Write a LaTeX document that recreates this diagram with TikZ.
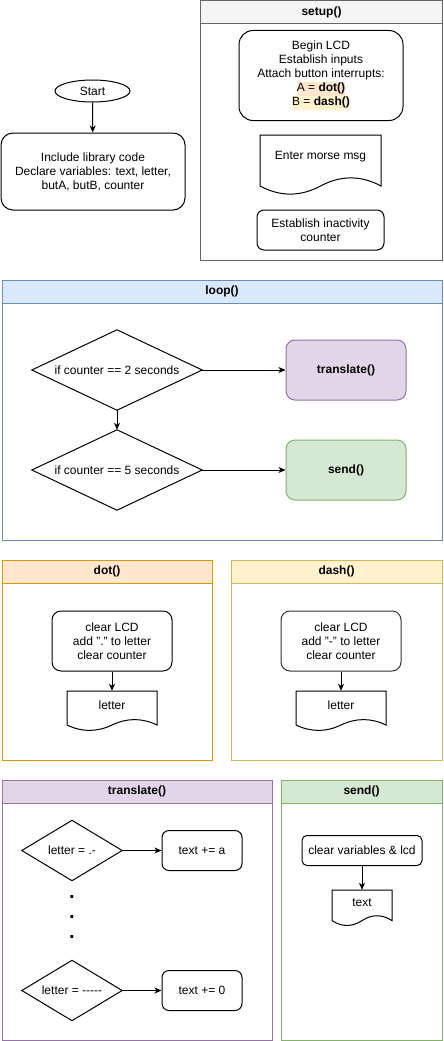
\documentclass[tikz,border=0pt]{standalone}
\usepackage{fontspec}
\setmainfont{Liberation Sans}
\usetikzlibrary{arrows.meta,shapes.geometric}
\setlength{\fboxsep}{0pt}
\definecolor{setupfill}{HTML}{F5F5F5}
\definecolor{setupline}{HTML}{666666}
\definecolor{loopfill}{HTML}{DAE8FC}
\definecolor{loopline}{HTML}{6C8EBF}
\definecolor{dotfill}{HTML}{FFE6CC}
\definecolor{dotline}{HTML}{D79B00}
\definecolor{dashfill}{HTML}{FFF2CC}
\definecolor{dashline}{HTML}{D6B656}
\definecolor{trfill}{HTML}{E1D5E7}
\definecolor{trline}{HTML}{9673A6}
\definecolor{sendfill}{HTML}{D5E8D4}
\definecolor{sendline}{HTML}{82B366}
\definecolor{dkline}{HTML}{333333}
\tikzset{
  base/.style={font=\fontsize{12}{14}\selectfont, align=center, inner sep=0pt, text=black},
  boldbase/.style={base, font=\fontsize{12}{14}\selectfont\bfseries},
  rbox/.style={base, draw=black, line width=1pt, rounded corners=#1},
  rbox/.default=9pt,
  docline/.style={draw=black, line width=1pt, fill=white},
  arr/.style={-{Stealth[length=7pt,width=6pt,inset=2pt]}, line width=1pt, draw=black},
  contline/.style={line width=1pt},
}
\newcommand\container[8]{%
  \draw[contline, draw=#7, fill=white] (#2,#3) rectangle (#4,#5);
  \draw[contline, draw=#7, fill=#6] (#2,#3) rectangle (#4,{#3+23});
  \node[boldbase] (#1) at ({(#2+#4)/2},{#3+11.5}) {#8};
}
\newcommand\docshape[7]{%
  \node[inner sep=0pt, minimum width=#4pt, minimum height=#5pt] (#1) at (#2,{#3+#5/2}) {};
  \draw[docline] ({#2-#4/2},#3) -- ({#2+#4/2},#3) -- ({#2+#4/2},{#3+0.85*#5})
    .. controls ({#2+#4*0.3333},{#3+0.67*#5}) and ({#2+#4*0.1667},{#3+0.67*#5}) .. (#2,{#3+0.85*#5})
    .. controls ({#2-#4*0.1667},{#3+1.03*#5}) and ({#2-#4*0.3333},{#3+1.03*#5}) .. ({#2-#4/2},{#3+0.85*#5}) -- cycle;
  \node[base] (#1-t) at (#2,#6) {#7};
}
\newcommand\diamondshape[6]{%
  \node[base, minimum width=#4pt, minimum height=#5pt] (#1) at (#2,#3) {};
  \draw[line width=1pt, fill=white] (#1.west) -- (#1.north) -- (#1.east) -- (#1.south) -- cycle;
  \node[base] (#1-t) at (#2,#3) {#6};
}
\begin{document}
\begin{tikzpicture}[x=1pt,y=-1pt]
\useasboundingbox (0,0) rectangle (444,1041);

% ---------- start ----------
\node[base, draw, ellipse, line width=1pt, minimum width=75pt, minimum height=22pt] (start) at (92.5,91) {Start};
\node[rbox=12pt, minimum width=184pt, minimum height=77pt] (incl) at (93,171.5) {Include library code\\Declare variables: text, letter,\\butA, butB, counter};
\draw[arr] (start) -- (incl);

% ---------- setup ----------
\container{setupT}{200.5}{0.5}{442.5}{260}{setupfill}{setupline}{setup()}
\node[rbox=14pt, minimum width=164pt, minimum height=90pt] (lcd) at (321,75.5) {Begin LCD\\Establish inputs\\Attach button interrupts:\\\colorbox{dotfill}{\strut A = \textbf{dot()}}\\\colorbox{dashfill}{\strut B = \textbf{dash()}}};
\docshape{morse}{320.5}{135}{121}{60}{157}{Enter morse msg}
\node[rbox=7pt, minimum width=127pt, minimum height=40pt] (inact) at (320.5,230) {Establish inactivity\\counter};

% ---------- loop ----------
\container{loopT}{2}{280}{442}{540}{loopfill}{loopline}{loop()}
\diamondshape{d2s}{117}{370}{170}{80}{if counter == 2 seconds}
\diamondshape{d5s}{117}{470}{170}{80}{if counter == 5 seconds}
\node[boldbase, draw=trline, fill=trfill, line width=1pt, rounded corners=9pt, minimum width=120pt, minimum height=60pt] (trans) at (346,370) {translate()};
\node[boldbase, draw=sendline, fill=sendfill, line width=1pt, rounded corners=9pt, minimum width=120pt, minimum height=60pt] (send) at (346,470) {send()};
\draw[arr] (d2s.east) -- (trans.west);
\draw[arr] (d2s.south) -- (d5s.north);
\draw[arr] (d5s.east) -- (send.west);

% ---------- dot ----------
\container{dotT}{2}{560}{212}{760}{dotfill}{dotline}{dot()}
\node[rbox, minimum width=120pt, minimum height=60pt] (dotbox) at (112,641) {clear LCD\\add "." to letter\\clear counter};
\docshape{dotdoc}{112}{691}{90}{40}{705}{letter}
\draw[arr] (dotbox.south) -- (dotdoc.north);

% ---------- dash ----------
\container{dashT}{231}{560}{442}{760}{dashfill}{dashline}{dash()}
\node[rbox, draw=dkline, minimum width=120pt, minimum height=60pt] (dashbox) at (341,641) {clear LCD\\add "-" to letter\\clear counter};
\docshape{dashdoc}{341}{691}{90}{40}{705}{letter}
\draw[arr] (dashbox.south) -- (dashdoc.north);

% ---------- translate ----------
\container{trT}{2}{780}{272}{1040}{trfill}{trline}{translate()}
\diamondshape{la}{72}{850.5}{100}{60}{letter = .-}
\diamondshape{l0}{72}{990.5}{100}{60}{letter = -{}-{}-{}-{}-}
\node[rbox=7pt, minimum width=80pt, minimum height=40pt] (ta) at (202,850.5) {text += a};
\node[rbox=7pt, minimum width=80pt, minimum height=40pt] (t0) at (202,990.5) {text += 0};
\draw[arr] (la.east) -- (ta.west);
\draw[arr] (l0.east) -- (t0.west);
\node[inner sep=0pt, font=\fontsize{20}{20}\selectfont\bfseries, align=center] (dots) at (72,917) {.\\.\\.};

% ---------- send ----------
\container{sendT}{281}{780}{442}{1040}{sendfill}{sendline}{send()}
\node[rbox=5pt, minimum width=120pt, minimum height=30pt] (clr) at (362,850.5) {clear variables \& lcd};
\docshape{txtdoc}{362}{890}{60}{36}{903}{text}
\draw[arr] (clr.south) -- (txtdoc.north);
\end{tikzpicture}
\end{document}
